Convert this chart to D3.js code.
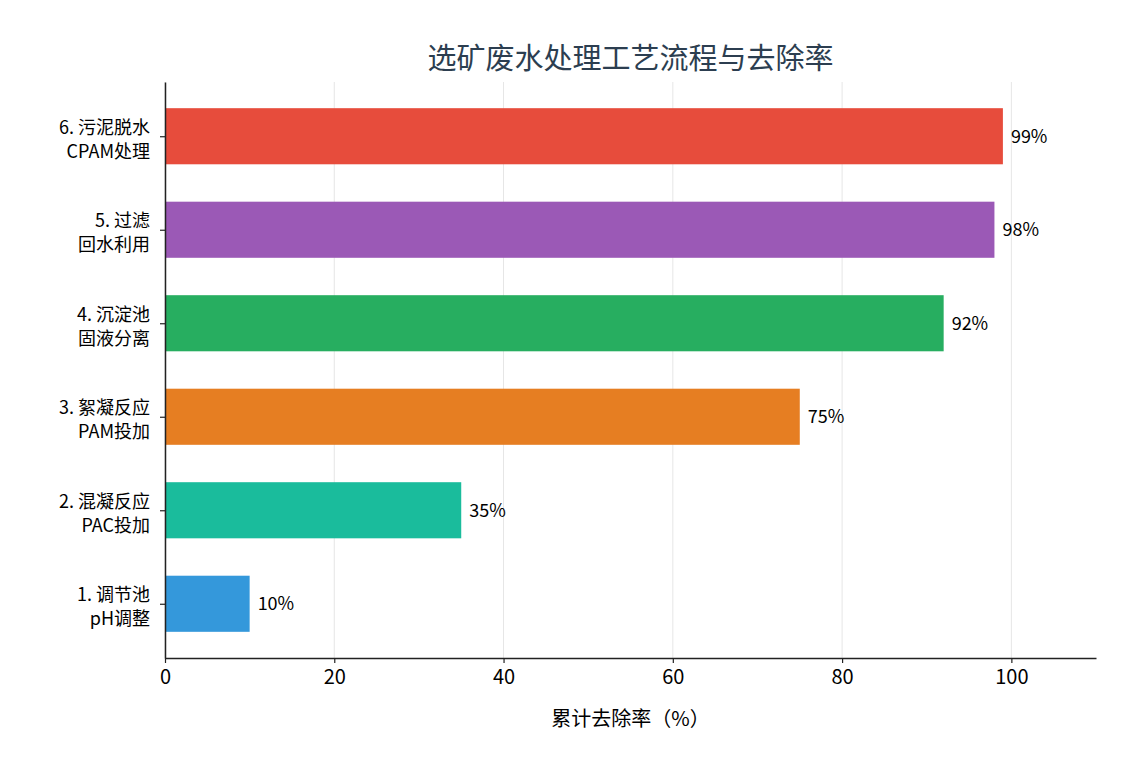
<!DOCTYPE html>
<html>
<head>
<meta charset="utf-8">
<script src="https://cdn.jsdelivr.net/npm/d3@7"></script>
<style>
  body { margin: 0; background: #fff; }
  svg text { font-family: "Noto Sans CJK SC", "DejaVu Sans", sans-serif; }
</style>
</head>
<body>
<svg id="chart"></svg>
<script>
// data
const stepLines = [
  ["1. 调节池", "pH调整"],
  ["2. 混凝反应", "PAC投加"],
  ["3. 絮凝反应", "PAM投加"],
  ["4. 沉淀池", "固液分离"],
  ["5. 过滤", "回水利用"],
  ["6. 污泥脱水", "CPAM处理"]
];
const removalRate = [10, 35, 75, 92, 98, 99];
const barColors = ["#3498db", "#1abc9c", "#e67e22", "#27ae60", "#9b59b6", "#e74c3c"];
const xTicks = [0, 20, 40, 60, 80, 100];

const width = 1140, height = 777;
const margin = {top: 82, right: 44, bottom: 119, left: 165};
const innerW = width - margin.left - margin.right;
const innerH = height - margin.top - margin.bottom;

const svg = d3.select("#chart").attr("width", width).attr("height", height);

const xScale = d3.scaleLinear().domain([0, 110]).range([0, innerW]);
// index scale, matplotlib style limits
const yScale = d3.scaleLinear().domain([-0.58, 5.58]).range([innerH, 0]);
const barH = yScale(0) - yScale(0.6);

const g = svg.append("g").attr("transform", `translate(${margin.left},${margin.top})`);

// grid
g.selectAll(".grid").data(xTicks).join("line")
  .attr("x1", d => xScale(d)).attr("x2", d => xScale(d))
  .attr("y1", 0).attr("y2", innerH)
  .attr("stroke", "#e6e6e6").attr("stroke-width", 1);

// bars
g.selectAll(".bar").data(removalRate).join("rect")
  .attr("x", xScale(0))
  .attr("y", (d, i) => yScale(i) - barH / 2)
  .attr("width", d => xScale(d) - xScale(0))
  .attr("height", barH)
  .attr("fill", (d, i) => barColors[i]);

// value labels
g.selectAll(".val").data(removalRate).join("text")
  .attr("x", d => xScale(d) + 8)
  .attr("y", (d, i) => yScale(i))
  .attr("dy", "0.35em")
  .attr("font-size", 18)
  .attr("fill", "#000")
  .text(d => d + "%");

// x axis
const xAxis = d3.axisBottom(xScale).tickValues(xTicks).tickSizeInner(5).tickSizeOuter(0).tickPadding(7);
const xAxisG = g.append("g").attr("transform", `translate(0,${innerH})`).call(xAxis);
xAxisG.select(".domain").attr("stroke", "#222").attr("stroke-width", 1.5);
xAxisG.selectAll(".tick line").attr("stroke", "#222").attr("stroke-width", 1.2);
xAxisG.selectAll(".tick text").attr("font-size", 20).attr("fill", "#000");

// y axis
const yAxis = d3.axisLeft(yScale).tickValues(d3.range(6)).tickSizeInner(5).tickSizeOuter(0).tickFormat("");
const yAxisG = g.append("g").call(yAxis);
yAxisG.select(".domain").attr("stroke", "#222").attr("stroke-width", 1.5);
yAxisG.selectAll(".tick line").attr("stroke", "#222").attr("stroke-width", 1.2);

// y labels, two lines each
const yLab = g.selectAll(".ylab").data(stepLines).join("text")
  .attr("text-anchor", "end")
  .attr("font-size", 18)
  .attr("fill", "#000")
  .attr("transform", (d, i) => `translate(-15,${yScale(i)})`);
yLab.selectAll("tspan").data(d => d).join("tspan")
  .attr("x", 0)
  .attr("y", (d, j) => j === 0 ? -9 : 15)
  .attr("dy", "0.35em")
  .text(d => d);

// axis title
g.append("text")
  .attr("x", innerW / 2).attr("y", innerH + 68)
  .attr("text-anchor", "middle")
  .attr("font-size", 20)
  .attr("fill", "#000")
  .text("累计去除率（%）");

// chart title
svg.append("text")
  .attr("x", margin.left + innerW / 2).attr("y", 69)
  .attr("text-anchor", "middle")
  .attr("font-size", 29)
  .attr("fill", "#2c3e50")
  .text("选矿废水处理工艺流程与去除率");
</script>
</body>
</html>
